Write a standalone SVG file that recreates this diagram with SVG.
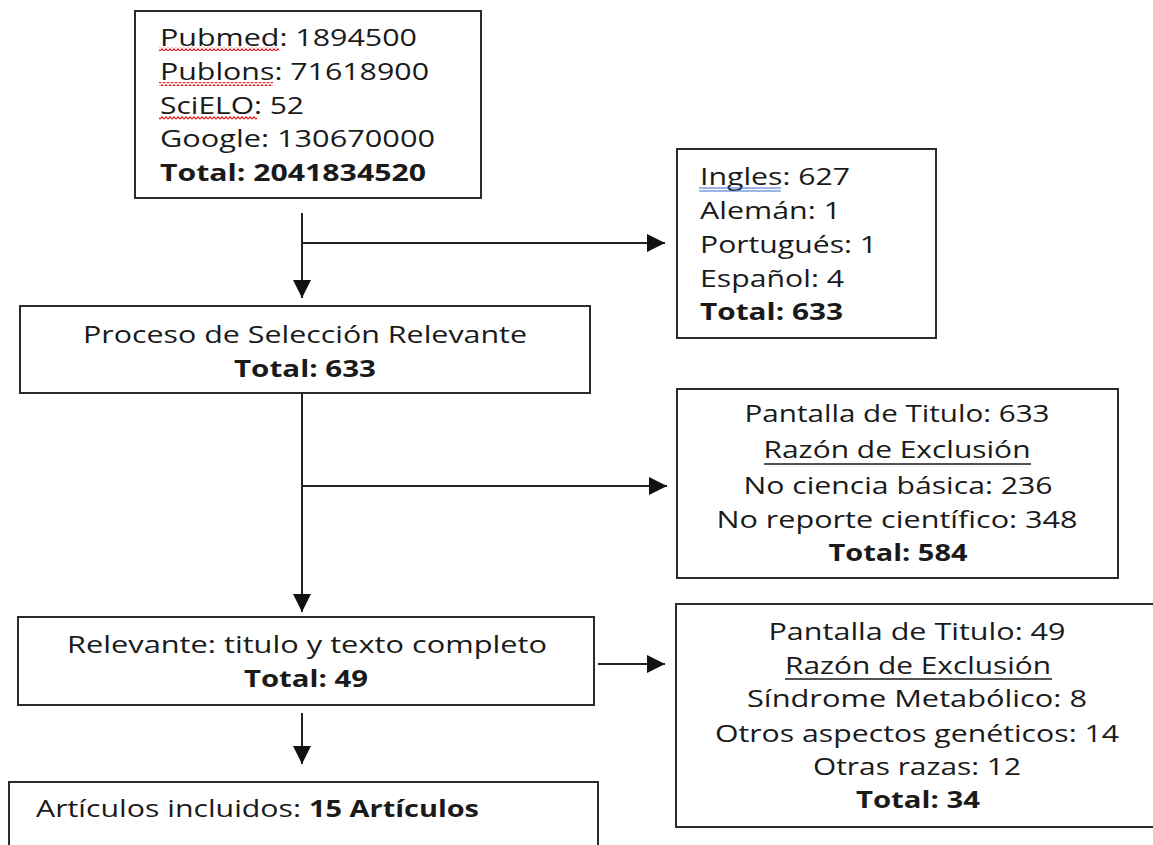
<svg xmlns="http://www.w3.org/2000/svg" width="1153" height="845" viewBox="0 0 1153 845">
  <style>
    .box { fill: #ffffff; stroke: #2b2b2b; stroke-width: 2; }
    .t { font-family: "Open Sans", "Liberation Sans", sans-serif; font-size: 23px; fill: #1a1a1a; }
    .b { font-weight: bold; }
    .c { text-anchor: middle; }
    .conn { stroke: #222222; stroke-width: 2; fill: none; }
    .ul { stroke: #1a1a1a; stroke-width: 1.5; }
    .spell { fill: url(#wave); }
    .gram { stroke: #3a6fd8; stroke-width: 1.2; }
  </style>
  <defs>
    <marker id="arrow" viewBox="0 0 18 18" refX="18" refY="9" markerWidth="18" markerHeight="18" markerUnits="userSpaceOnUse" orient="auto">
      <path d="M0,0 L18,9 L0,18 Z" fill="#111111"/>
    </marker>
    <pattern id="wave" width="4" height="4" patternUnits="userSpaceOnUse">
      <path d="M0,3.2 L2,0.8 L4,3.2" fill="none" stroke="#e02020" stroke-width="1.2"/>
    </pattern>
  </defs>
  <rect width="1153" height="845" fill="#ffffff"/>

  <g id="connectors">
    <line class="conn" x1="302" y1="213" x2="302" y2="298" marker-end="url(#arrow)"/>
    <line class="conn" x1="302" y1="243" x2="665" y2="243" marker-end="url(#arrow)"/>
    <line class="conn" x1="302" y1="393" x2="302" y2="612" marker-end="url(#arrow)"/>
    <line class="conn" x1="302" y1="486" x2="667" y2="486" marker-end="url(#arrow)"/>
    <line class="conn" x1="598" y1="664" x2="665" y2="664" marker-end="url(#arrow)"/>
    <line class="conn" x1="302" y1="713" x2="302" y2="764" marker-end="url(#arrow)"/>
  </g>

  <g id="sources">
    <rect class="box" x="135" y="11" width="346" height="187"/>
    <text class="t" x="160" y="46" textLength="257" lengthAdjust="spacingAndGlyphs">Pubmed: 1894500</text>
    <text class="t" x="160" y="80" textLength="269" lengthAdjust="spacingAndGlyphs">Publons: 71618900</text>
    <text class="t" x="160" y="114" textLength="144" lengthAdjust="spacingAndGlyphs">SciELO: 52</text>
    <text class="t" x="160" y="147" textLength="275" lengthAdjust="spacingAndGlyphs">Google: 130670000</text>
    <text class="t b" x="160" y="181" textLength="266" lengthAdjust="spacingAndGlyphs">Total: 2041834520</text>
    <rect class="spell" x="159" y="47" width="120" height="4"/>
    <rect class="spell" x="159" y="82" width="114" height="4"/>
    <rect class="spell" x="159" y="116" width="98" height="4"/>
  </g>

  <g id="languages">
    <rect class="box" x="677" y="149" width="259" height="189"/>
    <text class="t" x="700" y="185" textLength="150" lengthAdjust="spacingAndGlyphs">Ingles: 627</text>
    <text class="t" x="700" y="219" textLength="141" lengthAdjust="spacingAndGlyphs">Alemán: 1</text>
    <text class="t" x="700" y="253" textLength="177" lengthAdjust="spacingAndGlyphs">Portugués: 1</text>
    <text class="t" x="700" y="287" textLength="144" lengthAdjust="spacingAndGlyphs">Español: 4</text>
    <text class="t b" x="700" y="320" textLength="143" lengthAdjust="spacingAndGlyphs">Total: 633</text>
    <line class="gram" x1="699" y1="188" x2="781" y2="188"/>
    <line class="gram" x1="699" y1="191" x2="781" y2="191"/>
  </g>

  <g id="seleccion">
    <rect class="box" x="20" y="306" width="570" height="87"/>
    <text class="t c" x="305" y="343" textLength="444" lengthAdjust="spacingAndGlyphs">Proceso de Selección Relevante</text>
    <text class="t b c" x="305" y="377" textLength="142" lengthAdjust="spacingAndGlyphs">Total: 633</text>
  </g>

  <g id="exclusion1">
    <rect class="box" x="677" y="389" width="441" height="189"/>
    <text class="t c" x="897" y="422" textLength="305" lengthAdjust="spacingAndGlyphs">Pantalla de Titulo: 633</text>
    <text class="t c" x="897" y="458" textLength="267" lengthAdjust="spacingAndGlyphs">Razón de Exclusión</text>
    <line class="ul" x1="764" y1="464" x2="1031" y2="464"/>
    <text class="t c" x="898" y="494" textLength="309" lengthAdjust="spacingAndGlyphs">No ciencia básica: 236</text>
    <text class="t c" x="897" y="528" textLength="361" lengthAdjust="spacingAndGlyphs">No reporte científico: 348</text>
    <text class="t b c" x="898" y="561" textLength="139" lengthAdjust="spacingAndGlyphs">Total: 584</text>
  </g>

  <g id="relevante">
    <rect class="box" x="18" y="617" width="576" height="88"/>
    <text class="t c" x="307" y="653" textLength="480" lengthAdjust="spacingAndGlyphs">Relevante: titulo y texto completo</text>
    <text class="t b c" x="306" y="687" textLength="124" lengthAdjust="spacingAndGlyphs">Total: 49</text>
  </g>

  <g id="exclusion2">
    <rect class="box" x="676" y="604" width="500" height="223"/>
    <text class="t c" x="917" y="640" textLength="297" lengthAdjust="spacingAndGlyphs">Pantalla de Titulo: 49</text>
    <text class="t c" x="918" y="674" textLength="266" lengthAdjust="spacingAndGlyphs">Razón de Exclusión</text>
    <line class="ul" x1="785" y1="679" x2="1052" y2="679"/>
    <text class="t c" x="917" y="707" textLength="340" lengthAdjust="spacingAndGlyphs">Síndrome Metabólico: 8</text>
    <text class="t c" x="917" y="742" textLength="404" lengthAdjust="spacingAndGlyphs">Otros aspectos genéticos: 14</text>
    <text class="t c" x="917" y="775" textLength="208" lengthAdjust="spacingAndGlyphs">Otras razas: 12</text>
    <text class="t b c" x="918" y="808" textLength="124" lengthAdjust="spacingAndGlyphs">Total: 34</text>
  </g>

  <g id="incluidos">
    <rect class="box" x="9" y="782" width="589" height="80"/>
    <text class="t" x="36" y="817" textLength="265" lengthAdjust="spacingAndGlyphs">Artículos incluidos:</text>
    <text class="t b" x="309" y="817" textLength="170" lengthAdjust="spacingAndGlyphs">15 Artículos</text>
  </g>
</svg>
